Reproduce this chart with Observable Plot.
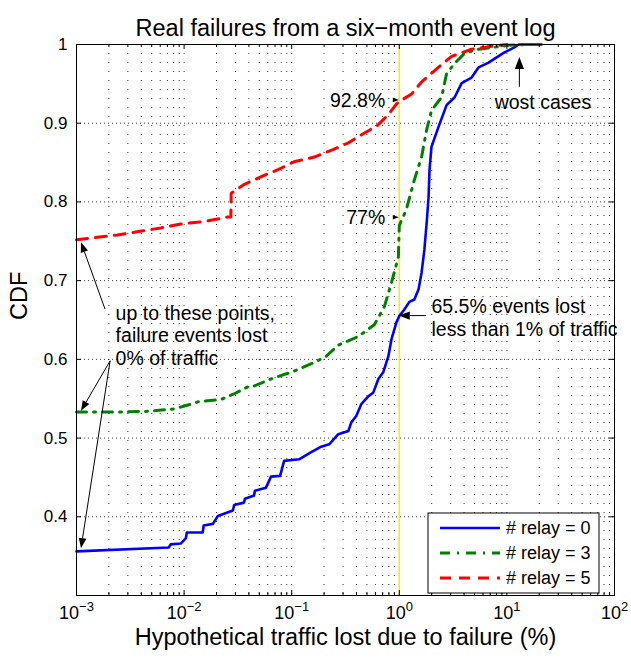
<!DOCTYPE html>
<html><head><meta charset="utf-8">
<script src="https://cdn.jsdelivr.net/npm/d3@7"></script>
<script src="https://cdn.jsdelivr.net/npm/@observablehq/plot@0.6"></script>
<style>
body{margin:0;background:#fff;}
#chart{width:631px;height:658px;}
</style>
</head><body><div id="chart"></div>
<script>
// ---- data ----
const seriesNames = ["# relay = 0", "# relay = 3", "# relay = 5"];
const seriesColors = ["#0000ff", "#008000", "#ff0000"];
const relay0X = [0.001,0.0072,0.0075,0.0093,0.0104,0.0106,0.0149,0.0152,0.0185,0.0206,0.0284,0.0292,0.036,0.0368,0.0447,0.0455,0.0577,0.0642,0.078,0.085,0.117,0.152,0.188,0.223,0.271,0.336,0.358,0.398,0.443,0.515,0.574,0.639,0.711,0.792,0.844,0.94,1.0,1.11,1.24,1.38,1.51,1.61,1.71,1.80,1.87,1.91,1.99,2.31,2.75,3.27,3.8,4.7,5.46,6.76,7.7,9.5,11.6,12.9,21];
const relay0Y = [0.356,0.361,0.365,0.366,0.373,0.380,0.380,0.389,0.391,0.401,0.408,0.415,0.418,0.423,0.427,0.433,0.437,0.451,0.452,0.471,0.473,0.482,0.489,0.492,0.505,0.509,0.520,0.528,0.543,0.553,0.558,0.575,0.584,0.604,0.625,0.647,0.655,0.663,0.673,0.676,0.689,0.710,0.739,0.775,0.806,0.841,0.870,0.895,0.923,0.933,0.951,0.958,0.971,0.977,0.982,0.990,0.996,1.0,1.0];
const relay3X = [0.001,0.00257,0.0046,0.0080,0.0116,0.0134,0.022,0.029,0.039,0.0446,0.064,0.105,0.162,0.21,0.27,0.416,0.586,0.727,0.844,0.98,1.0,1.16,1.38,1.61,1.79,1.99,2.47,2.75,3.27,4.05,5.46,7.2,10.4,17];
const relay3Y = [0.533,0.533,0.534,0.537,0.543,0.546,0.549,0.556,0.565,0.566,0.575,0.585,0.596,0.604,0.618,0.629,0.644,0.667,0.697,0.730,0.770,0.790,0.828,0.857,0.891,0.916,0.933,0.963,0.976,0.989,0.994,0.996,0.999,1.0];
const relay5X = [0.001,0.0024,0.004,0.0061,0.0093,0.0153,0.0255,0.0272,0.0274,0.036,0.0518,0.0747,0.105,0.162,0.248,0.336,0.453,0.625,0.78,0.95,1.0,1.07,1.3,1.6,1.79,2.31,3.06,4.7,6.6,10];
const relay5Y = [0.752,0.758,0.763,0.767,0.772,0.775,0.781,0.781,0.811,0.822,0.832,0.841,0.851,0.857,0.867,0.875,0.886,0.897,0.910,0.925,0.928,0.930,0.937,0.952,0.958,0.971,0.985,0.994,0.997,1.0];

const xMajor = [1e-3, 1e-2, 1e-1, 1, 10, 100];
const xMinor = [];
for (let e = -3; e < 2; e++) for (let m = 2; m <= 9; m++) xMinor.push(m * Math.pow(10, e));
const yTicks = [0.4, 0.5, 0.6, 0.7, 0.8, 0.9, 1];
const yTickLabels = ["0.4", "0.5", "0.6", "0.7", "0.8", "0.9", "1"];
const xTickExp = ["\u22123", "\u22122", "\u22121", "0", "1", "2"];

const titleText = "Real failures from a six\u2212month event log";
const xLabelText = "Hypothetical traffic lost due to failure (%)";
const yLabelText = "CDF";

const notesEnd = [
  {x: 0.741, y: 0.929, text: "92.8%"},
  {x: 0.741, y: 0.780, text: "77%"}
];
const notesStart = [
  {x: 1.99, y: 0.6535, text: "65.5% events lost\nless than 1% of traffic"},
  {x: 7.7, y: 0.927, text: "wost cases"},
  {x: 0.00231, y: 0.631, text: "up to these points,\nfailure events lost\n0% of traffic"}
];
const arrows = [
  {x1: 0.88, y1: 0.929, x2: 1.0, y2: 0.929, head: 6},
  {x1: 0.88, y1: 0.780, x2: 1.0, y2: 0.780, head: 6},
  {x1: 1.79, y1: 0.655, x2: 1.0, y2: 0.655, head: 11},
  {x1: 13.2, y1: 0.9456, x2: 13.2, y2: 0.9835, head: 12},
  {x1: 0.00186, y1: 0.6633, x2: 0.001113, y2: 0.748, head: 10},
  {x1: 0.002075, y1: 0.5975, x2: 0.001113, y2: 0.534, head: 10},
  {x1: 0.002075, y1: 0.5975, x2: 0.001113, y2: 0.3595, head: 10}
];

// ---- build ----
const toRows = (xs, ys, name) => xs.map((x, i) => ({x, y: ys[i], series: name}));
const d0 = toRows(relay0X, relay0Y, seriesNames[0]);
const d3s = toRows(relay3X, relay3Y, seriesNames[1]);
const d5 = toRows(relay5X, relay5Y, seriesNames[2]);

const W = 631, H = 658, mL = 76, mR = 17, mT = 44, mB = 63;
const fW = W - mL - mR, fH = H - mT - mB;
const font = "'Liberation Sans', Arial, Helvetica, sans-serif";
const dashes = [null, "10,7,2,7", "11,8"];

const plot = Plot.plot({
  width: W, height: H,
  marginLeft: mL, marginRight: mR, marginTop: mT, marginBottom: mB,
  style: {fontFamily: font, background: "white", color: "black", overflow: "visible"},
  x: {type: "log", domain: [1e-3, 1e2], axis: null},
  y: {domain: [0.3, 1], axis: null},
  marks: [
    Plot.ruleX(xMajor.concat(xMinor), {x: d => d, stroke: "#000", strokeWidth: 1, strokeDasharray: "1,8", strokeOpacity: 0.8}),
    Plot.ruleY(yTicks, {y: d => d, stroke: "#000", strokeWidth: 1, strokeDasharray: "1,3", strokeOpacity: 0.8}),
    Plot.ruleX([1], {x: d => d, stroke: "#f2f200", strokeWidth: 1.5}),
    Plot.line(d0, {x: "x", y: "y", stroke: seriesColors[0], strokeWidth: 2.6}),
    Plot.line(d3s, {x: "x", y: "y", stroke: seriesColors[1], strokeWidth: 3, strokeDasharray: dashes[1]}),
    Plot.line(d5, {x: "x", y: "y", stroke: seriesColors[2], strokeWidth: 3, strokeDasharray: dashes[2]}),
    // ticks inside frame
    Plot.tickX(xMajor, {x: d => d, insetTop: fH - 5, stroke: "#000"}),
    Plot.tickX(xMajor, {x: d => d, insetBottom: fH - 5, stroke: "#000"}),
    Plot.tickX(xMinor, {x: d => d, insetTop: fH - 3, stroke: "#000"}),
    Plot.tickX(xMinor, {x: d => d, insetBottom: fH - 3, stroke: "#000"}),
    Plot.tickY(yTicks, {y: d => d, insetRight: fW - 5, stroke: "#000"}),
    Plot.tickY(yTicks, {y: d => d, insetLeft: fW - 5, stroke: "#000"}),
    Plot.frame({stroke: "#000", strokeWidth: 1}),
    // tick labels
    Plot.text(xMajor, {x: d => d, frameAnchor: "bottom", dy: 23, text: (d, i) => "10^" + xTickExp[i], fontSize: 18}),
    Plot.text(yTicks, {y: d => d, frameAnchor: "left", dx: -9, textAnchor: "end", text: (d, i) => yTickLabels[i], fontSize: 17}),
    // titles
    Plot.text([titleText], {frameAnchor: "top", dy: -25, text: d => d, fontSize: 23.5}),
    Plot.text([xLabelText], {frameAnchor: "bottom", dy: 49, text: d => d, fontSize: 23.5}),
    Plot.text([yLabelText], {frameAnchor: "left", dx: -57, rotate: -90, text: d => d, fontSize: 23.5}),
    // annotations
    Plot.text(notesEnd, {x: "x", y: "y", text: "text", textAnchor: "end", fontSize: 19.5}),
    Plot.text(notesStart, {x: "x", y: "y", text: "text", textAnchor: "start", fontSize: 19.5, lineHeight: 1.15})
  ]
});

document.getElementById("chart").appendChild(plot);

const svg = d3.select(plot);
// superscripts on x tick labels
svg.selectAll("text").filter(function() { return this.textContent.includes("^"); }).each(function() {
  const t = d3.select(this);
  const parts = t.text().split("^");
  t.text(parts[0]);
  t.append("tspan").attr("dy", "-8").attr("font-size", 13).text(parts[1]);
});

// arrows with filled heads
const sx = plot.scale("x"), sy = plot.scale("y");
const ga = svg.append("g").attr("aria-label", "arrows");
arrows.forEach(a => {
  const x1 = sx.apply(a.x1), y1 = sy.apply(a.y1), x2 = sx.apply(a.x2), y2 = sy.apply(a.y2);
  const ang = Math.atan2(y2 - y1, x2 - x1);
  const L = a.head, Wd = a.head * 0.38;
  const bx = x2 - L * Math.cos(ang), by = y2 - L * Math.sin(ang);
  ga.append("line").attr("x1", x1).attr("y1", y1).attr("x2", bx).attr("y2", by)
    .attr("stroke", "#000").attr("stroke-width", 1);
  const px = -Math.sin(ang) * Wd, py = Math.cos(ang) * Wd;
  ga.append("path").attr("d", `M${x2},${y2}L${bx + px},${by + py}L${bx - px},${by - py}Z`).attr("fill", "#000");
});

// legend
const lg = svg.append("g").attr("aria-label", "legend").attr("font-family", font).attr("font-size", 18);
const lx = 428, ly = 513, lw = 171, lh = 80;
lg.append("rect").attr("x", lx).attr("y", ly).attr("width", lw).attr("height", lh)
  .attr("fill", "white").attr("stroke", "#000").attr("stroke-width", 1);
seriesNames.forEach((name, i) => {
  const yy = ly + 15 + i * 25;
  lg.append("line").attr("x1", lx + 12).attr("x2", lx + 72).attr("y1", yy).attr("y2", yy)
    .attr("stroke", seriesColors[i]).attr("stroke-width", i === 0 ? 2.6 : 3)
    .attr("stroke-dasharray", dashes[i]);
  lg.append("text").attr("x", lx + 78).attr("y", yy).attr("dy", "0.35em")
    .attr("text-anchor", "start").attr("fill", "#000").text(name);
});
</script>
</body></html>
